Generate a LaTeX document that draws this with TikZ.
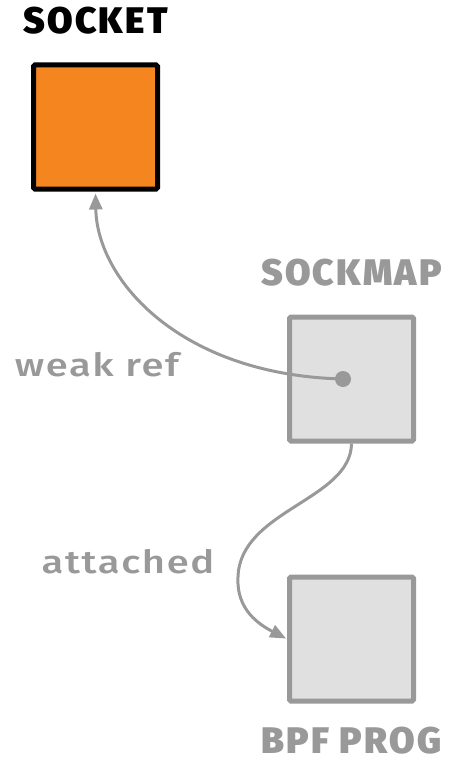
\documentclass[tikz,border=0pt]{standalone}
\usepackage{fontspec}
\setmainfont{Fira Sans}
\newfontfamily\headfont{Fira Sans Black}[LetterSpace=6]
\newfontfamily\notefont{Fira Sans Medium}[FakeStretch=1.25, LetterSpace=5]
\usetikzlibrary{positioning,arrows.meta}

\definecolor{sockorange}{HTML}{F5861F}
\definecolor{mapgrey}{HTML}{E0E0E0}
\definecolor{inkgrey}{HTML}{999999}

\begin{document}
\begin{tikzpicture}[x=1pt, y=-1pt,
    box/.style={draw, line width=5pt, rounded corners=1.5pt, minimum size=124pt, inner sep=0pt},
    title/.style={font=\headfont\fontsize{37}{37}\selectfont, inner sep=0pt},
    note/.style={font=\notefont\fontsize{32}{32}\selectfont, text=inkgrey, inner sep=0pt, anchor=base},
    link/.style={draw=inkgrey, line width=3pt, -{Triangle[length=16pt,width=13pt]}}]
  \useasboundingbox (0,0) rectangle (448,760);

  % the three boxes
  \node[box, fill=sockorange, draw=black] (socket) at (95.5,127) {};
  \node[box, fill=mapgrey, draw=inkgrey] (sockmap) at (351.5,379) {};
  \node[box, fill=mapgrey, draw=inkgrey] (prog) at (351.5,639) {};

  % box titles
  \node[title, above=28pt of socket] (sockettitle) {SOCKET};
  \node[title, text=inkgrey, above=28pt of sockmap] (sockmaptitle) {SOCKMAP};
  \node[title, text=inkgrey, below=23pt of prog] (progtitle) {BPF PROG};

  % map entry
  \node[circle, fill=inkgrey, minimum size=16pt, inner sep=0pt] (entry) at (343,379) {};

  \draw[link, shorten >=2pt] (entry.center) .. controls (180,375) and (97,280) .. (socket.south);
  \draw[link, shorten >=1pt] (sockmap.south) .. controls (351,500) and (240,510) .. (238,577)
    .. controls (236,610) and (260,625) .. (prog.west);

  \node[note] (weakref) at (97,376) {weak ref};
  \node[note] (attached) at (128,573) {attached};
\end{tikzpicture}
\end{document}
